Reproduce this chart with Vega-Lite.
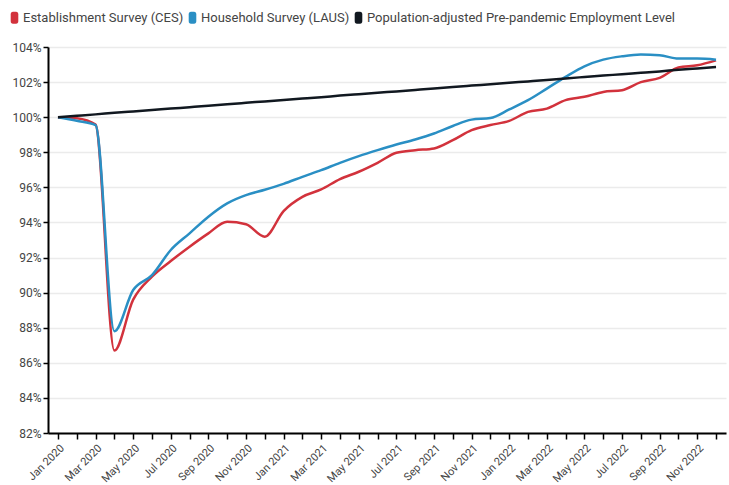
{
  "$schema": "https://vega.github.io/schema/vega-lite/v6.json",
  "width": 678,
  "height": 386,
  "autosize": "none",
  "padding": {"left": 48, "top": 47, "right": 3, "bottom": 52},
  "background": "white",
  "config": {
    "font": "Roboto",
    "view": {"stroke": null}
  },
  "data": {
    "values": [
      {"month": "Jan 2020", "ces": 100.0, "laus": 100.0, "pop": 100.0},
      {"month": "Feb 2020", "ces": 99.94, "laus": 99.8, "pop": 100.08},
      {"month": "Mar 2020", "ces": 99.58, "laus": 99.55, "pop": 100.16},
      {"month": "Apr 2020", "ces": 86.7, "laus": 87.8, "pop": 100.25},
      {"month": "May 2020", "ces": 89.6, "laus": 90.15, "pop": 100.33},
      {"month": "Jun 2020", "ces": 90.91, "laus": 91.0, "pop": 100.41},
      {"month": "Jul 2020", "ces": 91.8, "laus": 92.43, "pop": 100.49},
      {"month": "Aug 2020", "ces": 92.62, "laus": 93.38, "pop": 100.57},
      {"month": "Sep 2020", "ces": 93.38, "laus": 94.33, "pop": 100.65},
      {"month": "Oct 2020", "ces": 94.04, "laus": 95.09, "pop": 100.74},
      {"month": "Nov 2020", "ces": 93.9, "laus": 95.56, "pop": 100.82},
      {"month": "Dec 2020", "ces": 93.19, "laus": 95.86, "pop": 100.9},
      {"month": "Jan 2021", "ces": 94.65, "laus": 96.2, "pop": 100.98},
      {"month": "Feb 2021", "ces": 95.46, "laus": 96.6, "pop": 101.06},
      {"month": "Mar 2021", "ces": 95.88, "laus": 96.98, "pop": 101.14},
      {"month": "Apr 2021", "ces": 96.47, "laus": 97.4, "pop": 101.23},
      {"month": "May 2021", "ces": 96.89, "laus": 97.78, "pop": 101.31},
      {"month": "Jun 2021", "ces": 97.4, "laus": 98.12, "pop": 101.39},
      {"month": "Jul 2021", "ces": 97.97, "laus": 98.44, "pop": 101.47},
      {"month": "Aug 2021", "ces": 98.12, "laus": 98.73, "pop": 101.55},
      {"month": "Sep 2021", "ces": 98.22, "laus": 99.07, "pop": 101.63},
      {"month": "Oct 2021", "ces": 98.69, "laus": 99.5, "pop": 101.72},
      {"month": "Nov 2021", "ces": 99.26, "laus": 99.86, "pop": 101.8},
      {"month": "Dec 2021", "ces": 99.55, "laus": 99.95, "pop": 101.88},
      {"month": "Jan 2022", "ces": 99.79, "laus": 100.44, "pop": 101.96},
      {"month": "Feb 2022", "ces": 100.3, "laus": 100.97, "pop": 102.04},
      {"month": "Mar 2022", "ces": 100.49, "laus": 101.63, "pop": 102.12},
      {"month": "Apr 2022", "ces": 100.97, "laus": 102.3, "pop": 102.21},
      {"month": "May 2022", "ces": 101.16, "laus": 102.9, "pop": 102.29},
      {"month": "Jun 2022", "ces": 101.44, "laus": 103.28, "pop": 102.37},
      {"month": "Jul 2022", "ces": 101.54, "laus": 103.47, "pop": 102.45},
      {"month": "Aug 2022", "ces": 102.0, "laus": 103.57, "pop": 102.53},
      {"month": "Sep 2022", "ces": 102.24, "laus": 103.53, "pop": 102.61},
      {"month": "Oct 2022", "ces": 102.83, "laus": 103.34, "pop": 102.7},
      {"month": "Nov 2022", "ces": 102.96, "laus": 103.34, "pop": 102.78},
      {"month": "Dec 2022", "ces": 103.24, "laus": 103.28, "pop": 102.86}
    ]
  },
  "transform": [
    {"fold": ["ces", "laus", "pop"], "as": ["series", "value"]}
  ],
  "mark": {"type": "line", "interpolate": "monotone", "strokeWidth": 2.5},
  "encoding": {
    "x": {
      "field": "month",
      "type": "ordinal",
      "sort": null,
      "scale": {"type": "point", "padding": 0.53},
      "axis": {
        "title": null,
        "domainColor": "#000000",
        "domainWidth": 2,
        "tickColor": "#000000",
        "tickWidth": 1.5,
        "tickSize": 6,
        "labelAngle": -45,
        "labelAlign": "right",
        "labelBaseline": "top",
        "labelFontSize": 11,
        "labelColor": "#444444",
        "labelPadding": 3,
        "labelOverlap": false,
        "labelExpr": "indexof(['Jan','Mar','May','Jul','Sep','Nov'], slice(datum.value,0,3)) >= 0 ? datum.value : ''"
      }
    },
    "y": {
      "field": "value",
      "type": "quantitative",
      "scale": {"domain": [82, 104], "nice": false, "zero": false},
      "axis": {
        "title": null,
        "values": [82, 84, 86, 88, 90, 92, 94, 96, 98, 100, 102, 104],
        "labelExpr": "datum.value + '%'",
        "domainColor": "#000000",
        "domainWidth": 2,
        "tickColor": "#000000",
        "tickWidth": 1.5,
        "tickSize": 5,
        "labelFontSize": 12,
        "labelColor": "#444444",
        "labelPadding": 2,
        "gridColor": "#ebebeb",
        "gridWidth": 1.5
      }
    },
    "color": {
      "field": "series",
      "type": "nominal",
      "scale": {"domain": ["ces", "laus", "pop"], "range": ["#d2323c", "#2a8fc4", "#111820"]},
      "legend": {
        "title": null,
        "orient": "none",
        "legendX": -40,
        "legendY": -36,
        "direction": "horizontal",
        "symbolType": "M-0.62,-0.55Q-0.62,-1,-0.25,-1L0.25,-1Q0.62,-1,0.62,-0.55L0.62,0.55Q0.62,1,0.25,1L-0.25,1Q-0.62,1,-0.62,0.55Z",
        "symbolSize": 150,
        "symbolStrokeWidth": 0,
        "symbolOffset": 0,
        "labelFontSize": 13,
        "labelColor": "#444444",
        "labelOffset": 2,
        "labelLimit": 400,
        "columnPadding": 2,
        "labelExpr": "datum.value == 'ces' ? 'Establishment Survey (CES)' : datum.value == 'laus' ? 'Household Survey (LAUS)' : 'Population-adjusted Pre-pandemic Employment Level'",
        "encode": {
          "symbols": {"update": {"fill": {"scale": "color", "field": "value"}, "fillOpacity": {"value": 1}}}
        }
      }
    }
  }
}
